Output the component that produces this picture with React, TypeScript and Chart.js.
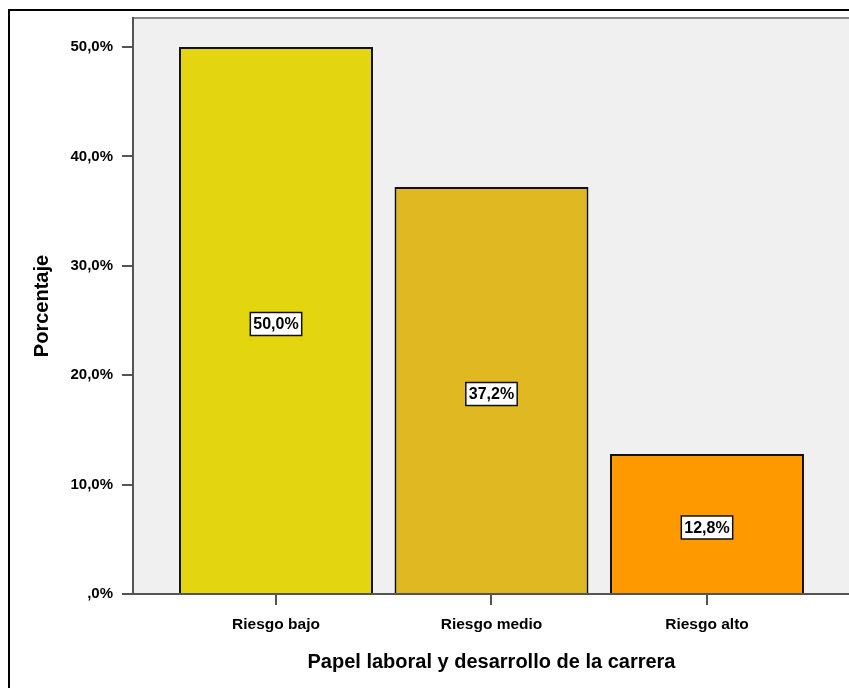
import React, { useEffect, useRef } from "react";
import { Chart, registerables } from "chart.js";

Chart.register(...registerables);

const categories = ["Riesgo bajo", "Riesgo medio", "Riesgo alto"];
const percentages = [50.0, 37.2, 12.8];
const barColors = ["#e3d610", "#e0b922", "#fe9900"];
const yTickValues = [0, 10, 20, 30, 40, 50];
const xTitle = "Papel laboral y desarrollo de la carrera";
const yTitle = "Porcentaje";

const fmt = (v: number) => {
  const s = v.toFixed(1).replace(".", ",");
  return (s.startsWith("0,") ? s.slice(1) : s) + "%";
};

const FAMILY = "'Liberation Sans', Arial, sans-serif";
const W = 870;
const H = 700;

export default function App() {
  const ref = useRef<HTMLCanvasElement>(null);

  useEffect(() => {
    document.documentElement.style.overflow = "hidden";
    document.body.style.margin = "0";
    document.body.style.overflow = "hidden";
    const canvas = ref.current;
    if (!canvas) return;

    const bgPlugin = {
      id: "bgFrame",
      beforeDraw(chart: any) {
        const { ctx, chartArea: a } = chart;
        ctx.save();
        ctx.fillStyle = "#ffffff";
        ctx.fillRect(0, 0, chart.width, chart.height);
        ctx.strokeStyle = "#000000";
        ctx.lineWidth = 2;
        ctx.strokeRect(9, 10, chart.width + 20, chart.height + 20);
        ctx.fillStyle = "#f0f0f0";
        ctx.fillRect(a.left, a.top, a.right - a.left + 30, a.bottom - a.top);
        ctx.strokeStyle = "#8a8a8a";
        ctx.lineWidth = 2;
        ctx.beginPath();
        ctx.moveTo(a.left, a.top);
        ctx.lineTo(a.right + 30, a.top);
        ctx.stroke();
        ctx.restore();
      },
    };

    const labelPlugin = {
      id: "barLabels",
      afterDatasetsDraw(chart: any) {
        const { ctx } = chart;
        const meta = chart.getDatasetMeta(0);
        ctx.save();
        ctx.font = `bold 16px ${FAMILY}`;
        meta.data.forEach((bar: any, i: number) => {
          const { x, y, base } = bar.getProps(["x", "y", "base"], true);
          const cy = (y + base) / 2 + 4;
          const text = fmt(percentages[i]);
          const w = ctx.measureText(text).width + 6;
          const h = 23;
          ctx.fillStyle = "#ffffff";
          ctx.fillRect(x - w / 2, cy - h / 2, w, h);
          ctx.strokeStyle = "#111111";
          ctx.lineWidth = 1.5;
          ctx.strokeRect(x - w / 2, cy - h / 2, w, h);
          ctx.fillStyle = "#000000";
          ctx.textAlign = "center";
          ctx.textBaseline = "middle";
          ctx.fillText(text, x, cy + 1);
        });
        ctx.restore();
      },
    };

    const chart = new Chart(canvas, {
      type: "bar",
      data: {
        datasets: [
          {
            data: categories.map((_, i) => ({ x: i, y: percentages[i] })),
            backgroundColor: barColors,
            borderColor: "#111111",
            borderWidth: 2,
            barPercentage: 0.9,
            categoryPercentage: 1,
          },
        ],
      },
      options: {
        responsive: false,
        animation: false,
        layout: { padding: { left: 0, top: 17, right: 20, bottom: 0 } },
        plugins: {
          legend: { display: false },
          tooltip: { enabled: false },
        },
        scales: {
          x: {
            type: "linear",
            offset: false,
            min: -0.6636,
            max: 2.6636,
            afterBuildTicks: (s: any) => {
              s.ticks = categories.map((_, i) => ({ value: i }));
            },
            afterFit: (s: any) => {
              s.height = H - 594;
            },
            grid: {
              offset: false,
              drawOnChartArea: false,
              drawTicks: true,
              tickLength: 11,
              color: "#555555",
              lineWidth: 2,
            },
            border: { display: true, color: "#555555", width: 2 },
            ticks: {
              autoSkip: false,
              maxRotation: 0,
              padding: 10,
              color: "#000000",
              font: { family: FAMILY, size: 15.5, weight: "bold" },
              callback: (v: any) => categories[Number(v)] ?? "",
            },
            title: {
              display: true,
              text: xTitle,
              color: "#000000",
              font: { family: FAMILY, size: 20, weight: "bold", lineHeight: 1.2 },
              padding: { top: 0, bottom: 26 },
            },
          },
          y: {
            type: "linear",
            min: 0,
            max: 52.65,
            afterBuildTicks: (s: any) => {
              s.ticks = yTickValues.map((v) => ({ value: v }));
            },
            afterFit: (s: any) => {
              s.width = 133;
            },
            grid: {
              drawOnChartArea: false,
              drawTicks: true,
              tickLength: 11,
              color: "#555555",
              lineWidth: 2,
            },
            border: { display: true, color: "#555555", width: 2 },
            ticks: {
              padding: 9,
              color: "#000000",
              font: { family: FAMILY, size: 15, weight: "bold" },
              callback: (v: any) => fmt(Number(v)),
            },
            title: {
              display: true,
              text: yTitle,
              color: "#000000",
              font: { family: FAMILY, size: 20, weight: "bold", lineHeight: 1.2 },
              padding: { top: 30, bottom: 0 },
            },
          },
        },
      },
      plugins: [bgPlugin, labelPlugin],
    } as any);

    return () => chart.destroy();
  }, []);

  return (
    <canvas
      ref={ref}
      width={W}
      height={H}
      style={{ display: "block", width: W, height: H }}
    />
  );
}
